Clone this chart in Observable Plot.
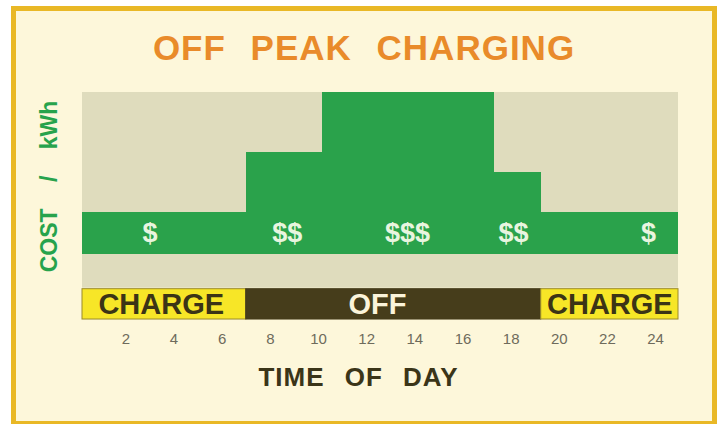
<!DOCTYPE html>
<html><head><meta charset="utf-8">
<script src="https://cdn.jsdelivr.net/npm/d3@7"></script>
<script src="https://cdn.jsdelivr.net/npm/@observablehq/plot@0.6"></script>
<style>
body{margin:0;background:#fff;}
#wrap{position:relative;width:719px;height:424px;overflow:hidden;font-family:"Liberation Sans",Arial,sans-serif;}
#frame{position:absolute;left:11px;top:6px;width:706px;height:420px;box-sizing:border-box;border:5px solid #e9b826;background:#fdf7da;}
#title{position:absolute;left:0;width:728px;top:30px;text-align:center;font-size:35px;line-height:35px;font-weight:bold;color:#e98b2a;letter-spacing:1px;word-spacing:14px;white-space:nowrap;}
#chart{position:absolute;left:0;top:0;}
</style></head><body>
<div id="wrap"><div id="frame"></div><div id="title">OFF PEAK CHARGING</div><div id="chart"></div></div>
<script>
// cost steps across the day
const costLabels = ["$", "$$", "$$$", "$$", "$"];
const stepStart = [0.2, 7.0, 10.15, 17.3, 19.25];
const stepEnd = [7.0, 10.15, 17.3, 19.25, 24.95];
const costLevel = [3.87, 6.93, 10, 5.89, 3.87];
const costBase = 1.72;
const labelHour = [3.0, 8.7, 13.7, 18.1, 23.7];
const labelLevel = 2.81;
// charging mode bar
const modeNames = ["CHARGE", "OFF", "CHARGE"];
const modeStart = [0.2, 7.0, 19.25];
const modeEnd = [7.0, 19.25, 24.95];
const modeLabelHour = [3.47, 12.45, 22.1];
const barBottom = -1.6, barTop = -0.05;
// axes
const tickHours = [2, 4, 6, 8, 10, 12, 14, 16, 18, 20, 22, 24];
const hourDomain = [0.2, 24.95];
const costDomain = [-1.65, 10];
const bgBottom = 0, bgTop = 10;
const xLabel = "TIME OF DAY";
const yLabel = "COST / kWh";

const steps = costLabels.map((t, i) => ({t, x1: stepStart[i], x2: stepEnd[i], y: costLevel[i], lx: labelHour[i]}));
const modes = modeNames.map((t, i) => ({t, x1: modeStart[i], x2: modeEnd[i], lx: modeLabelHour[i], charge: t === "CHARGE"}));
const bg = [{x1: hourDomain[0], x2: hourDomain[1], y1: bgBottom, y2: bgTop}];

const green = "#2aa24b";
const chart = Plot.plot({
  width: 719, height: 424,
  marginTop: 92, marginBottom: 104, marginLeft: 82, marginRight: 41,
  style: {background: "transparent", fontFamily: "'Liberation Sans', Arial, sans-serif", overflow: "visible"},
  x: {domain: hourDomain},
  y: {domain: costDomain, axis: null},
  marks: [
    Plot.rect(bg, {x1: "x1", x2: "x2", y1: "y1", y2: "y2", fill: "#dfdcbd"}),
    Plot.rect(steps, {x1: "x1", x2: "x2", y1: costBase, y2: "y", fill: green, shapeRendering: "crispEdges"}),
    Plot.text(steps, {x: "lx", y: labelLevel, text: "t", fill: "#e8f5df", fontSize: 27, fontWeight: "bold", lineAnchor: "middle"}),
    Plot.rect(modes, {x1: "x1", x2: "x2", y1: barBottom, y2: barTop, fill: d => d.charge ? "#f7e627" : "#463d1b", stroke: d => d.charge ? "#9a8a2a" : "#463d1b", strokeWidth: 1}),
    Plot.text(modes, {x: "lx", y: (barBottom + barTop) / 2, text: "t", fill: d => d.charge ? "#3b3416" : "#fbf4da", fontSize: 29, fontWeight: "bold", lineAnchor: "middle"}),
    Plot.axisX({ticks: tickHours, tickSize: 0, tickPadding: 13, fontSize: 15, color: "#6e6b5c", tickFormat: d => String(d), label: null}),
    Plot.text([xLabel], {frameAnchor: "bottom", textAnchor: "middle", dx: -22, dy: 57, text: d => d, fontSize: 26, fontWeight: "bold", fill: "#3b3518", lineAnchor: "middle"}),
    Plot.text([yLabel], {frameAnchor: "left", textAnchor: "middle", dx: -33, dy: -20, rotate: -90, text: d => d, fontSize: 23, fontWeight: "bold", fill: "#27a34c", lineAnchor: "middle"})
  ]
});
document.getElementById("chart").appendChild(chart);
d3.select(chart).selectAll("text").each(function() {
  const t = this.textContent;
  if (t === xLabel) d3.select(this).style("letter-spacing", "1px").style("word-spacing", "12px");
  if (t === yLabel) d3.select(this).style("word-spacing", "20px");
});
</script>
</body></html>
